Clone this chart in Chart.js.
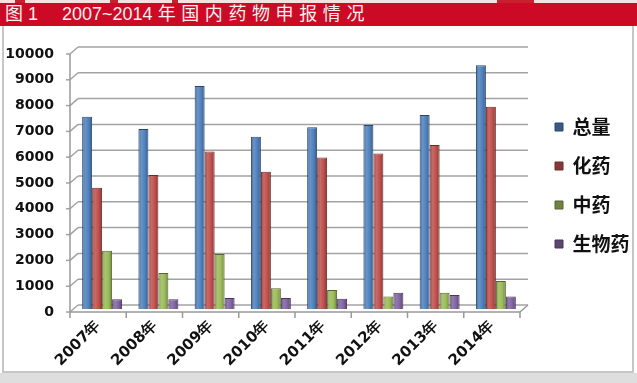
<!DOCTYPE html>
<html><head><meta charset="utf-8">
<script src="https://cdn.jsdelivr.net/npm/chart.js@4.4.1/dist/chart.umd.min.js"></script>
<style>
html,body{margin:0;padding:0;width:637px;height:383px;overflow:hidden;background:#fff;}
#strip{position:absolute;left:0;top:0;width:637px;height:3px;background:#f3e2e2;}
.mark{position:absolute;top:0;height:3px;background:#c8202e;}
#band{position:absolute;left:0;top:3px;width:637px;height:23px;background:#cc0a26;color:#fdf0f0;font-family:"Liberation Sans","Noto Sans CJK SC",sans-serif;font-size:18px;line-height:23px;white-space:nowrap;}
#frame{position:absolute;left:2px;top:26px;width:628px;height:345px;border:2px solid #c6c6c6;border-top:none;}
#below{position:absolute;left:0;top:373px;width:637px;height:10px;background:#dedede;}
#c{position:absolute;left:0;top:0;}
</style></head>
<body>
<div id="strip"></div>
<div class="mark" style="left:15px;width:10px"></div>
<div class="mark" style="left:110px;width:8px"></div>
<div class="mark" style="left:172px;width:6px"></div>
<div class="mark" style="left:497px;width:37px"></div>
<div id="band"><span style="margin-left:5px">图</span><span style="margin-left:5px">1</span><span style="margin-left:24px">2007~2014</span><span style="margin-left:5px;letter-spacing:5.6px">年国内药物申报情况</span></div>
<div id="frame"></div>
<div id="below"></div>
<canvas id="c" width="637" height="383"></canvas>
<script>
// ---- data ----
const years = ['2007年','2008年','2009年','2010年','2011年','2012年','2013年','2014年'];
const totalVals = [7450, 6980, 8640, 6680, 7040, 7130, 7520, 9450];
const chemVals  = [4700, 5190, 6100, 5320, 5870, 6030, 6360, 7840];
const tcmVals   = [2260, 1400, 2130, 800, 740, 480, 630, 1090];
const bioVals   = [375, 375, 425, 425, 400, 630, 540, 480];
const seriesNames = ['总量','化药','中药','生物药'];
const yMin = 0, yMax = 10000, yStep = 1000;

const seriesColors = ['#4f81bd','#c0504d','#9bbb59','#8064a2'];
const CAT_PCT = 0.71;

function shade(hex, f){
  const n = parseInt(hex.slice(1),16);
  let r=(n>>16)&255, g=(n>>8)&255, b=n&255;
  const t = f<0?0:255, p=Math.abs(f);
  r=Math.round((t-r)*p+r); g=Math.round((t-g)*p+g); b=Math.round((t-b)*p+b);
  return 'rgb('+r+','+g+','+b+')';
}
function barFill(ctx){
  const base = seriesColors[ctx.datasetIndex];
  const chart = ctx.chart, xs = chart.scales && chart.scales.x;
  if (ctx.type !== 'data' || !xs || !xs.width) return base;
  const cat = xs.getPixelForValue(ctx.dataIndex);
  const bw = (xs.width / years.length) * CAT_PCT / 4;
  const x0 = cat - 2*bw + ctx.datasetIndex*bw;
  const g = chart.ctx.createLinearGradient(x0,0,x0+bw,0);
  g.addColorStop(0, shade(base,-0.15));
  g.addColorStop(0.3, shade(base,0.15));
  g.addColorStop(0.65, base);
  g.addColorStop(1, shade(base,-0.3));
  return g;
}

const frame3d = {
  id:'frame3d',
  beforeDatasetsDraw(chart){
    const {ctx, chartArea:a, scales:{x,y}} = chart;
    const bx=4, by=4, fx=4, fy=3;
    const line=(x1,y1,x2,y2)=>{ctx.beginPath();ctx.moveTo(x1,y1);ctx.lineTo(x2,y2);ctx.stroke();};
    ctx.save();
    ctx.lineWidth=1.5; ctx.strokeStyle='#a3a3a3';
    y.ticks.forEach(t=>{
      const py=y.getPixelForValue(t.value);
      line(a.left+bx, py-by, a.right+bx, py-by);
      line(a.left-fx, py+fy, a.left+bx, py-by);
      line(a.left-fx-4, py+fy, a.left-fx, py+fy);
    });
    const y0=y.getPixelForValue(yMin), yT=y.getPixelForValue(yMax);
    ctx.strokeStyle='#999';
    line(a.left-fx, yT+fy, a.left-fx, y0+fy);
    line(a.left-fx, y0+fy, a.right-fx, y0+fy);
    line(a.right-fx, y0+fy, a.right+bx, y0-by);
    const cw = x.width/years.length;
    for(let i=0;i<=years.length;i++){
      const px = x.getPixelForValue(0) - cw/2 + i*cw - fx;
      line(px, y0+fy, px, y0+fy+6);
    }
    ctx.restore();
  }
};
const legendShift = {
  id:'legendShift',
  afterLayout(chart){
    const L = chart.legend; if(!L) return;
    L.left += 11; L.right += 11; L.top += 5.5; L.bottom += 5.5;
  }
};

const datasets = [totalVals, chemVals, tcmVals, bioVals].map((vals,i)=>({
  label: seriesNames[i],
  data: vals,
  backgroundColor: barFill,
  borderColor: shade(seriesColors[i],-0.45),
  borderWidth: 1,
  categoryPercentage: CAT_PCT,
  barPercentage: 1
}));

Chart.defaults.font.family = '"DejaVu Sans", sans-serif';
new Chart(document.getElementById('c'), {
  type:'bar',
  data:{labels:years, datasets},
  plugins:[frame3d, legendShift],
  options:{
    responsive:false,
    animation:false,
    devicePixelRatio:1,
    layout:{padding:{top:51,right:13,bottom:0,left:0}},
    plugins:{
      tooltip:{enabled:false},
      legend:{
        position:'right', align:'center', fullSize:false, maxWidth:100,
        labels:{boxWidth:8, boxHeight:8, padding:20, color:'#111',
          font:{family:'"Noto Sans CJK SC", sans-serif', size:19, weight:'bold'}}
      }
    },
    scales:{
      x:{
        grid:{display:false, drawTicks:false}, border:{display:false},
        ticks:{autoSkip:false, minRotation:45, maxRotation:45, padding:8, labelOffset:-4,
          color:'#111', font:{size:15, weight:'bold'}},
        afterFit(s){ s.height = 74; }
      },
      y:{
        min:yMin, max:yMax,
        grid:{display:false, drawTicks:false}, border:{display:false},
        ticks:{stepSize:yStep, padding:20, labelOffset:3, color:'#111', font:{size:14, weight:'bold'},
          callback:(v)=>String(v)},
        afterFit(s){ s.width = 74; }
      }
    }
  }
});
</script>
</body></html>
